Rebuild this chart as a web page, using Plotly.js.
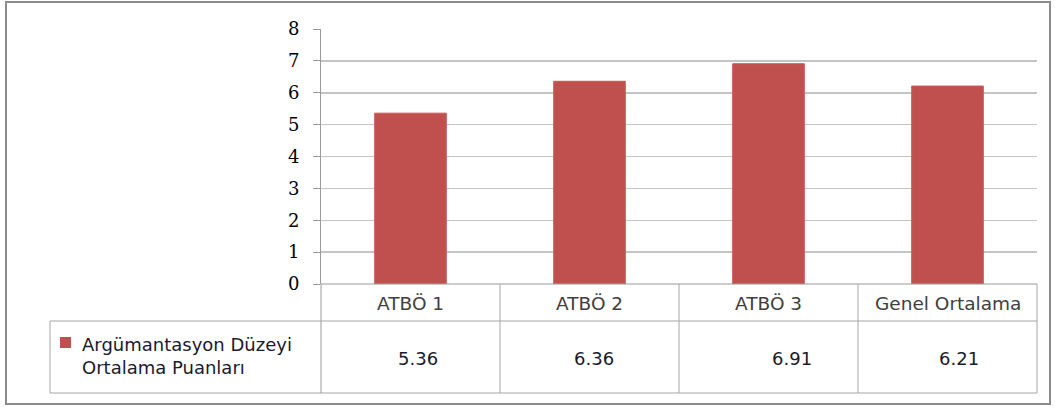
<!DOCTYPE html>
<html>
<head>
<meta charset="utf-8">
<script src="https://cdn.plot.ly/plotly-3.0.1.min.js"></script>
<style>
html,body{margin:0;padding:0;background:#fff;}
#chart{width:1055px;height:409px;}
</style>
</head>
<body>
<div id="chart"></div>
<script>
const categories = ["ATBÖ 1", "ATBÖ 2", "ATBÖ 3", "Genel Ortalama"];
const values = [5.36, 6.36, 6.91, 6.21];
const valueLabels = ["5.36", "6.36", "6.91", "6.21"];
const seriesName = "Argümantasyon Düzeyi<br>Ortalama Puanları";
const yTicks = [0, 1, 2, 3, 4, 5, 6, 7, 8];

const W = 1055, H = 409;
const px = x => x / W;
const py = y => 1 - y / H;

const plotL = 321, plotR = 1037, plotTop = 29, plotBot = 284;
const rowMid = 321, tableBot = 393, legendL = 50;
const valueShift = [7, 4, 23, 11];

const barColor = "#C0504D";
const lineColor = "#A6A6A6";

const trace = {
  type: "bar",
  x: categories,
  y: values,
  width: 0.4,
  marker: {color: barColor, line: {color: "#C65A57", width: 1}},
  hoverinfo: "x+y",
  showlegend: false
};

const shapes = [];
function line(x0, y0, x1, y1, color, w) {
  shapes.push({type: "line", xref: "paper", yref: "paper",
    x0: px(x0), y0: py(y0), x1: px(x1), y1: py(y1),
    line: {color: color || lineColor, width: w || 1}});
}
shapes.push({type: "rect", xref: "paper", yref: "paper",
  x0: px(6), y0: py(404), x1: px(1050), y1: py(2),
  line: {color: "#8C8C8C", width: 2}});
line(plotL, plotBot, plotR, plotBot, "#9A9A9A");
line(legendL, rowMid, plotR, rowMid);
line(legendL, tableBot, plotR, tableBot);
line(legendL, rowMid, legendL, tableBot);
line(plotL, plotBot, plotL, tableBot, "#9A9A9A");
line(plotR, plotBot, plotR, tableBot);
const catW = (plotR - plotL) / categories.length;
for (let i = 1; i < categories.length; i++) {
  const xb = plotL + catW * i;
  line(xb, plotBot, xb, tableBot);
}
shapes.push({type: "rect", xref: "paper", yref: "paper",
  x0: px(60), y0: py(348), x1: px(71), y1: py(337),
  fillcolor: barColor, line: {width: 0}});

const annotations = [];
categories.forEach((c, i) => {
  annotations.push({xref: "x", yref: "paper", x: c, y: py(303),
    text: c, showarrow: false, xanchor: "center", yanchor: "middle",
    font: {family: "DejaVu Sans, sans-serif", size: 18.5, color: "#404040"}});
  annotations.push({xref: "x", yref: "paper", x: c, y: py(358),
    text: valueLabels[i], showarrow: false, xanchor: "center", yanchor: "middle",
    xshift: valueShift[i],
    font: {family: "DejaVu Sans, sans-serif", size: 18, color: "#1a1a2e"}});
});
annotations.push({xref: "paper", yref: "paper", x: px(80), y: py(356),
  text: seriesName, showarrow: false, xanchor: "left", yanchor: "middle", align: "left",
  font: {family: "DejaVu Sans, sans-serif", size: 18, color: "#1a1a2e"}});

const layout = {
  width: W, height: H,
  margin: {l: 0, r: 0, t: 0, b: 0},
  paper_bgcolor: "#fff", plot_bgcolor: "#fff",
  showlegend: false,
  xaxis: {
    domain: [px(plotL), px(plotR)],
    type: "category",
    showticklabels: false,
    showgrid: false, zeroline: false, showline: false,
    fixedrange: true
  },
  yaxis: {
    domain: [py(plotBot), py(plotTop)],
    range: [0, 8],
    tickvals: yTicks,
    ticktext: yTicks.map(String),
    ticks: "outside", ticklen: 7, tickcolor: "#9A9A9A",
    showgrid: true, gridcolor: "#C4C4C4", gridwidth: 1.5,
    zeroline: false, showline: true, linecolor: "#9A9A9A",
    ticklabelstandoff: 10,
    tickfont: {family: "DejaVu Serif, serif", size: 18, color: "#000"},
    fixedrange: true
  },
  shapes: shapes,
  annotations: annotations
};

Plotly.newPlot("chart", [trace], layout, {displayModeBar: false, staticPlot: true});
</script>
</body>
</html>
